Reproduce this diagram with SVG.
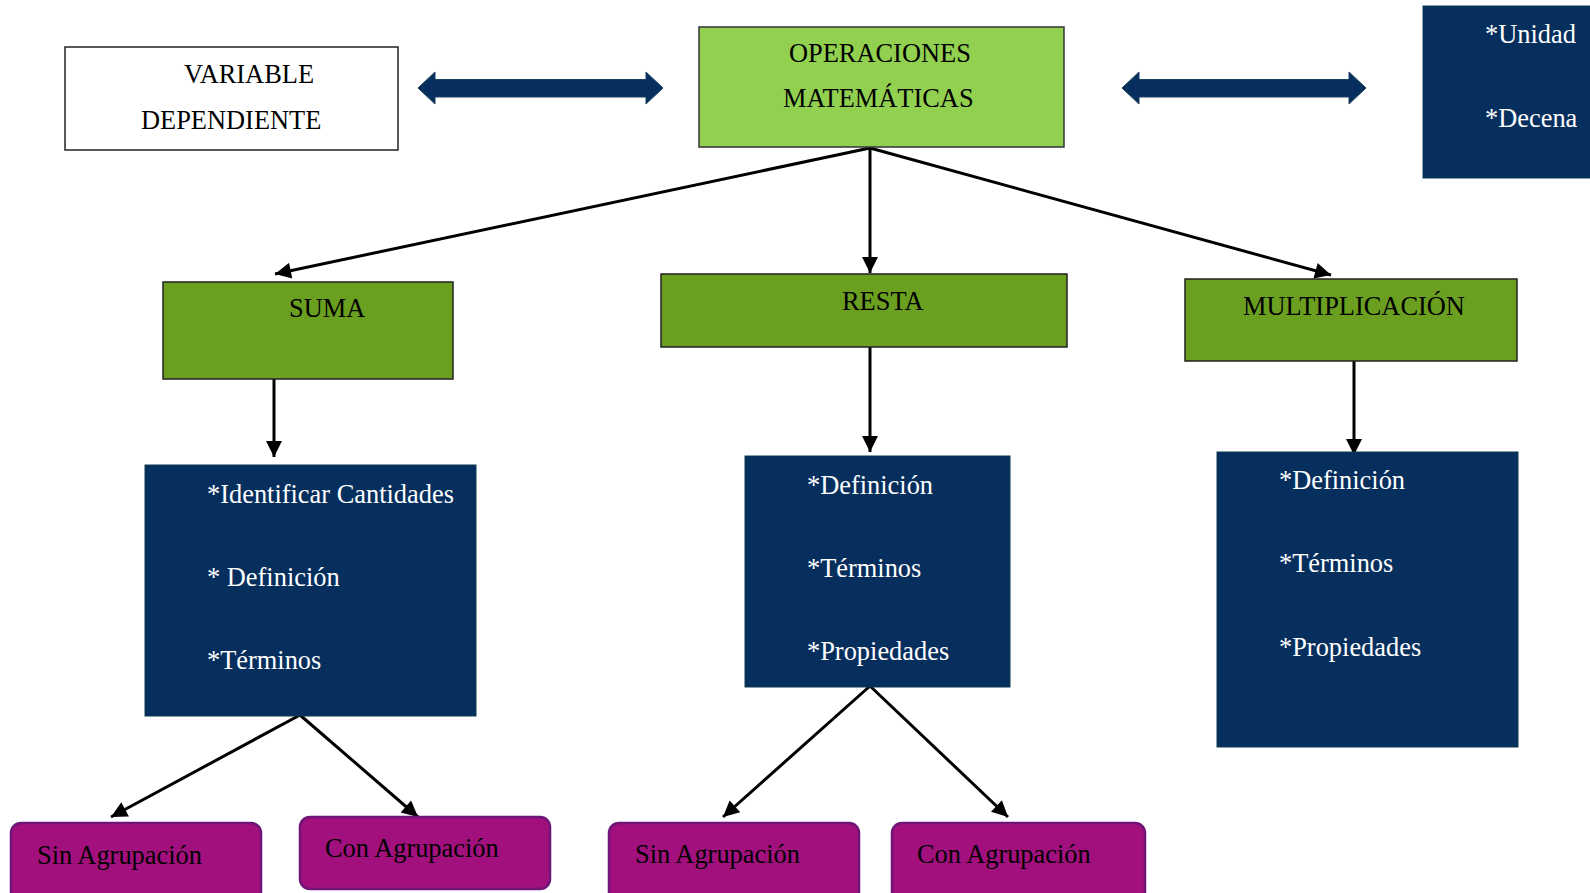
<svg xmlns="http://www.w3.org/2000/svg" width="1590" height="893" viewBox="0 0 1590 893">
<defs>
<style>
text{font-family:"Liberation Serif","Times New Roman",serif;font-size:26.4px}
.dk{fill:#000}
.wt{fill:#fff}
.white{fill:#fff;stroke:#222;stroke-width:1.5}
.lg{fill:#92D050;stroke:#333;stroke-width:1.5}
.dg{fill:#6A9F20;stroke:#222;stroke-width:1.5}
.nv{fill:#062F5E;stroke:#0E3A50;stroke-width:1}
.pp{fill:#A2107E;stroke:#6E1577;stroke-width:2.5}
.con{stroke:#000;stroke-width:3;fill:none;marker-end:url(#ah)}
.dbl{fill:#062F5E;stroke:#1B4060;stroke-width:1}
</style>
<marker id="ah" viewBox="0 0 10 10" refX="10" refY="5" markerWidth="18" markerHeight="16" markerUnits="userSpaceOnUse" orient="auto">
<path d="M0,0 L10,5 L0,10 z" fill="#000"/>
</marker>
</defs>
<rect width="1590" height="893" fill="#fff"/>

<g id="connectors">
<polygon class="dbl" points="418,88 435,72 435,79.5 646,79.5 646,72 663,88 646,104 646,97 435,97 435,104"/>
<polygon class="dbl" points="1122,88 1139,72 1139,79.5 1349,79.5 1349,72 1366,88 1349,104 1349,97 1139,97 1139,104"/>
<line class="con" x1="870" y1="148" x2="275" y2="274"/>
<line class="con" x1="870" y1="148" x2="870" y2="273"/>
<line class="con" x1="870" y1="148" x2="1331" y2="275"/>
<line class="con" x1="274" y1="379" x2="274" y2="457"/>
<line class="con" x1="870" y1="347" x2="870" y2="452"/>
<line class="con" x1="1354" y1="361" x2="1354" y2="455"/>
<line class="con" x1="300" y1="715" x2="111" y2="817"/>
<line class="con" x1="300" y1="715" x2="418" y2="817"/>
<line class="con" x1="870" y1="686" x2="723" y2="817"/>
<line class="con" x1="870" y1="686" x2="1008" y2="817"/>
</g>

<g id="variable">
<rect class="white" x="65" y="47" width="333" height="103"/>
<text class="dk" x="184" y="83">VARIABLE</text>
<text class="dk" x="141" y="129">DEPENDIENTE</text>
</g>

<g id="operaciones">
<rect class="lg" x="699" y="27" width="365" height="120"/>
<text class="dk" x="789" y="62">OPERACIONES</text>
<text class="dk" x="783" y="107">MATEMÁTICAS</text>
</g>

<g id="unidad">
<rect class="nv" x="1423" y="6" width="180" height="172"/>
<text class="wt" x="1485" y="43">*Unidad</text>
<text class="wt" x="1485" y="127">*Decena</text>
</g>

<g id="suma">
<rect class="dg" x="163" y="282" width="290" height="97"/>
<text class="dk" x="289" y="317">SUMA</text>
</g>

<g id="resta">
<rect class="dg" x="661" y="274" width="406" height="73"/>
<text class="dk" x="842" y="310">RESTA</text>
</g>

<g id="multiplicacion">
<rect class="dg" x="1185" y="279" width="332" height="82"/>
<text class="dk" x="1243" y="315">MULTIPLICACIÓN</text>
</g>

<g id="suma-detalle">
<rect class="nv" x="145" y="465" width="331" height="251"/>
<text class="wt" x="207" y="503">*Identificar Cantidades</text>
<text class="wt" x="207" y="586">* Definición</text>
<text class="wt" x="207" y="669">*Términos</text>
</g>

<g id="resta-detalle">
<rect class="nv" x="745" y="456" width="265" height="231"/>
<text class="wt" x="807" y="494">*Definición</text>
<text class="wt" x="807" y="577">*Términos</text>
<text class="wt" x="807" y="660">*Propiedades</text>
</g>

<g id="mult-detalle">
<rect class="nv" x="1217" y="452" width="301" height="295"/>
<text class="wt" x="1279" y="489">*Definición</text>
<text class="wt" x="1279" y="572">*Términos</text>
<text class="wt" x="1279" y="656">*Propiedades</text>
</g>

<g id="suma-sin">
<rect class="pp" x="11" y="823" width="250" height="85" rx="10"/>
<text class="dk" x="37" y="864">Sin Agrupación</text>
</g>

<g id="suma-con">
<rect class="pp" x="300" y="817" width="250" height="72" rx="10"/>
<text class="dk" x="325" y="857">Con Agrupación</text>
</g>

<g id="resta-sin">
<rect class="pp" x="609" y="823" width="250" height="85" rx="10"/>
<text class="dk" x="635" y="863">Sin Agrupación</text>
</g>

<g id="resta-con">
<rect class="pp" x="892" y="823" width="253" height="85" rx="10"/>
<text class="dk" x="917" y="863">Con Agrupación</text>
</g>
</svg>
